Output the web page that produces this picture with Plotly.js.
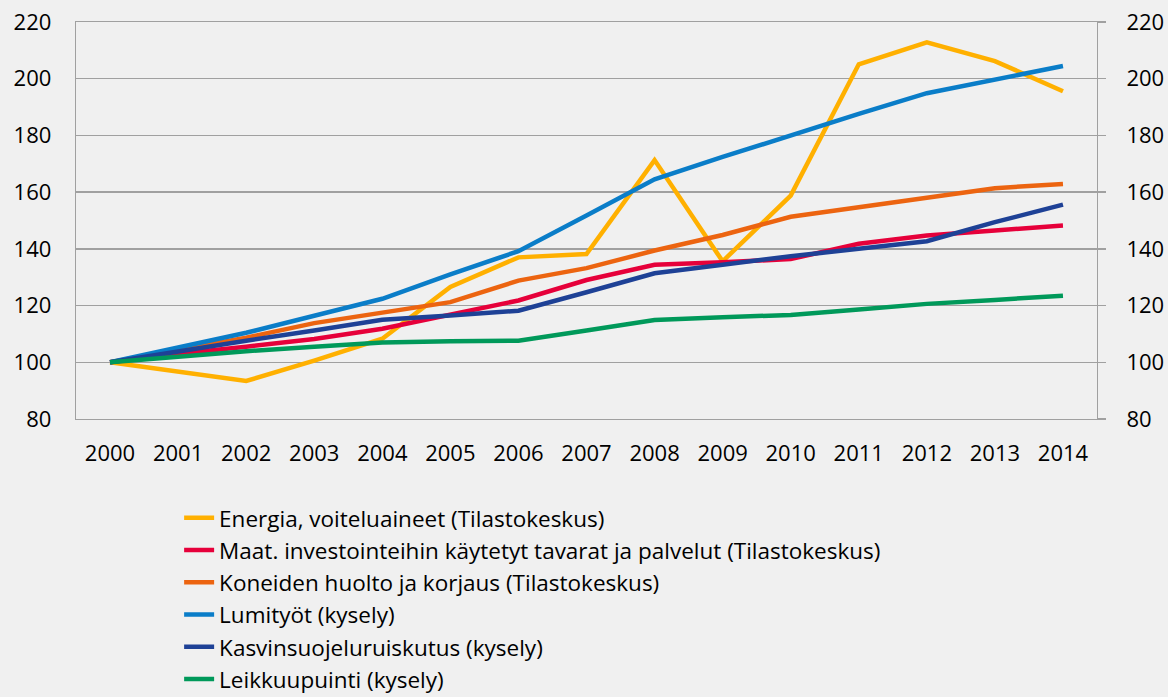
<!DOCTYPE html>
<html>
<head>
<meta charset="utf-8">
<script src="https://cdn.plot.ly/plotly-3.0.1.min.js"></script>
<style>html,body{margin:0;padding:0;background:#f0f0f0;}#chart{width:1168px;height:697px;}</style>
</head>
<body>
<div id="chart"></div>
<script>
const years = ['2000','2001','2002','2003','2004','2005','2006','2007','2008','2009','2010','2011','2012','2013','2014'];
const seriesNames = [
  'Energia, voiteluaineet (Tilastokeskus)',
  'Maat. investointeihin käytetyt tavarat ja palvelut (Tilastokeskus)',
  'Koneiden huolto ja korjaus (Tilastokeskus)',
  'Lumityöt (kysely)',
  'Kasvinsuojeluruiskutus (kysely)',
  'Leikkuupuinti (kysely)'
];
const energia   = [100, 96.5, 93.4, 100.6, 108.3, 126.6, 137.0, 138.2, 171.3, 135.6, 158.8, 205.1, 212.8, 206.2, 195.6];
const maat      = [100, 103.0, 105.5, 108.2, 111.8, 117.0, 121.8, 129.0, 134.4, 135.3, 136.4, 141.8, 144.7, 146.5, 148.2];
const koneiden  = [100, 104.4, 108.7, 113.8, 117.6, 121.2, 128.8, 133.2, 139.4, 144.9, 151.3, 154.7, 158.2, 161.4, 162.9];
const lumityot  = [100, 105.2, 110.4, 116.4, 122.4, 131.0, 139.2, 151.8, 164.5, 172.4, 180.2, 187.6, 194.9, 199.8, 204.5];
const kasvinsuo = [100, 104.0, 107.6, 111.2, 115.0, 116.5, 118.2, 124.7, 131.4, 134.4, 137.4, 140.0, 142.7, 149.4, 155.6];
const leikkuu   = [100, 102.0, 103.9, 105.5, 107.0, 107.4, 107.6, 111.2, 114.9, 115.9, 116.7, 118.6, 120.6, 122.0, 123.5];
const yTicks = [80, 100, 120, 140, 160, 180, 200, 220];

const values = [energia, maat, koneiden, lumityot, kasvinsuo, leikkuu];
const colors = ['#FFB000', '#E6003A', '#EC6410', '#0A7DC8', '#1E4196', '#00995A'];

const traces = values.map((v, i) => ({
  type: 'scatter',
  mode: 'lines',
  x: years,
  y: v,
  name: seriesNames[i],
  legendgroup: 'g' + i,
  line: {color: colors[i], width: 4.5}
}));
// carrier trace so the right-hand axis is drawn (draws nothing itself)
traces.push({
  type: 'scatter', mode: 'none', x: years, y: leikkuu,
  yaxis: 'y2', showlegend: false, hoverinfo: 'skip'
});

const gray = '#a0a0a0';
const fontFam = '"Open Sans", Lato, sans-serif';
const layout = {
  width: 1168, height: 697,
  paper_bgcolor: '#f0f0f0',
  plot_bgcolor: '#f0f0f0',
  margin: {l: 76, r: 71, t: 22, b: 278, pad: 0},
  font: {family: fontFam, size: 22, color: '#000'},
  showlegend: true,
  legend: {
    xref: 'paper', yref: 'container',
    x: 0.101, xanchor: 'left',
    y: 0.2875, yanchor: 'top',
    orientation: 'v',
    bgcolor: 'rgba(0,0,0,0)',
    font: {family: fontFam, size: 22.5, color: '#000'},
    tracegroupgap: 2.6,
    traceorder: 'normal'
  },
  xaxis: {
    type: 'category',
    range: [-0.5, 14.5],
    tickvals: years,
    ticktext: years,
    showgrid: false,
    showline: true,
    mirror: true,
    linecolor: gray,
    linewidth: 1.3,
    ticks: 'outside',
    ticklen: 14,
    tickcolor: 'rgba(0,0,0,0)',
    tickfont: {family: fontFam, size: 22, color: '#000'},
    zeroline: false,
    fixedrange: true
  },
  yaxis: {
    range: [80, 220],
    tickvals: yTicks,
    showgrid: true,
    gridcolor: gray,
    gridwidth: 1.3,
    showline: true,
    mirror: true,
    linecolor: gray,
    linewidth: 1.3,
    ticks: '',
    ticklabelstandoff: 19,
    tickfont: {family: fontFam, size: 22, color: '#000'},
    zeroline: false,
    fixedrange: true
  },
  yaxis2: {
    overlaying: 'y',
    side: 'right',
    range: [80, 220],
    tickvals: yTicks,
    showgrid: false,
    showline: false,
    ticks: 'outside',
    ticklen: 8,
    tickwidth: 1.3,
    tickcolor: gray,
    ticklabelstandoff: 16,
    tickfont: {family: fontFam, size: 22, color: '#000'},
    zeroline: false,
    fixedrange: true
  }
};

Plotly.newPlot('chart', traces, layout, {staticPlot: true, displayModeBar: false});
</script>
</body>
</html>
